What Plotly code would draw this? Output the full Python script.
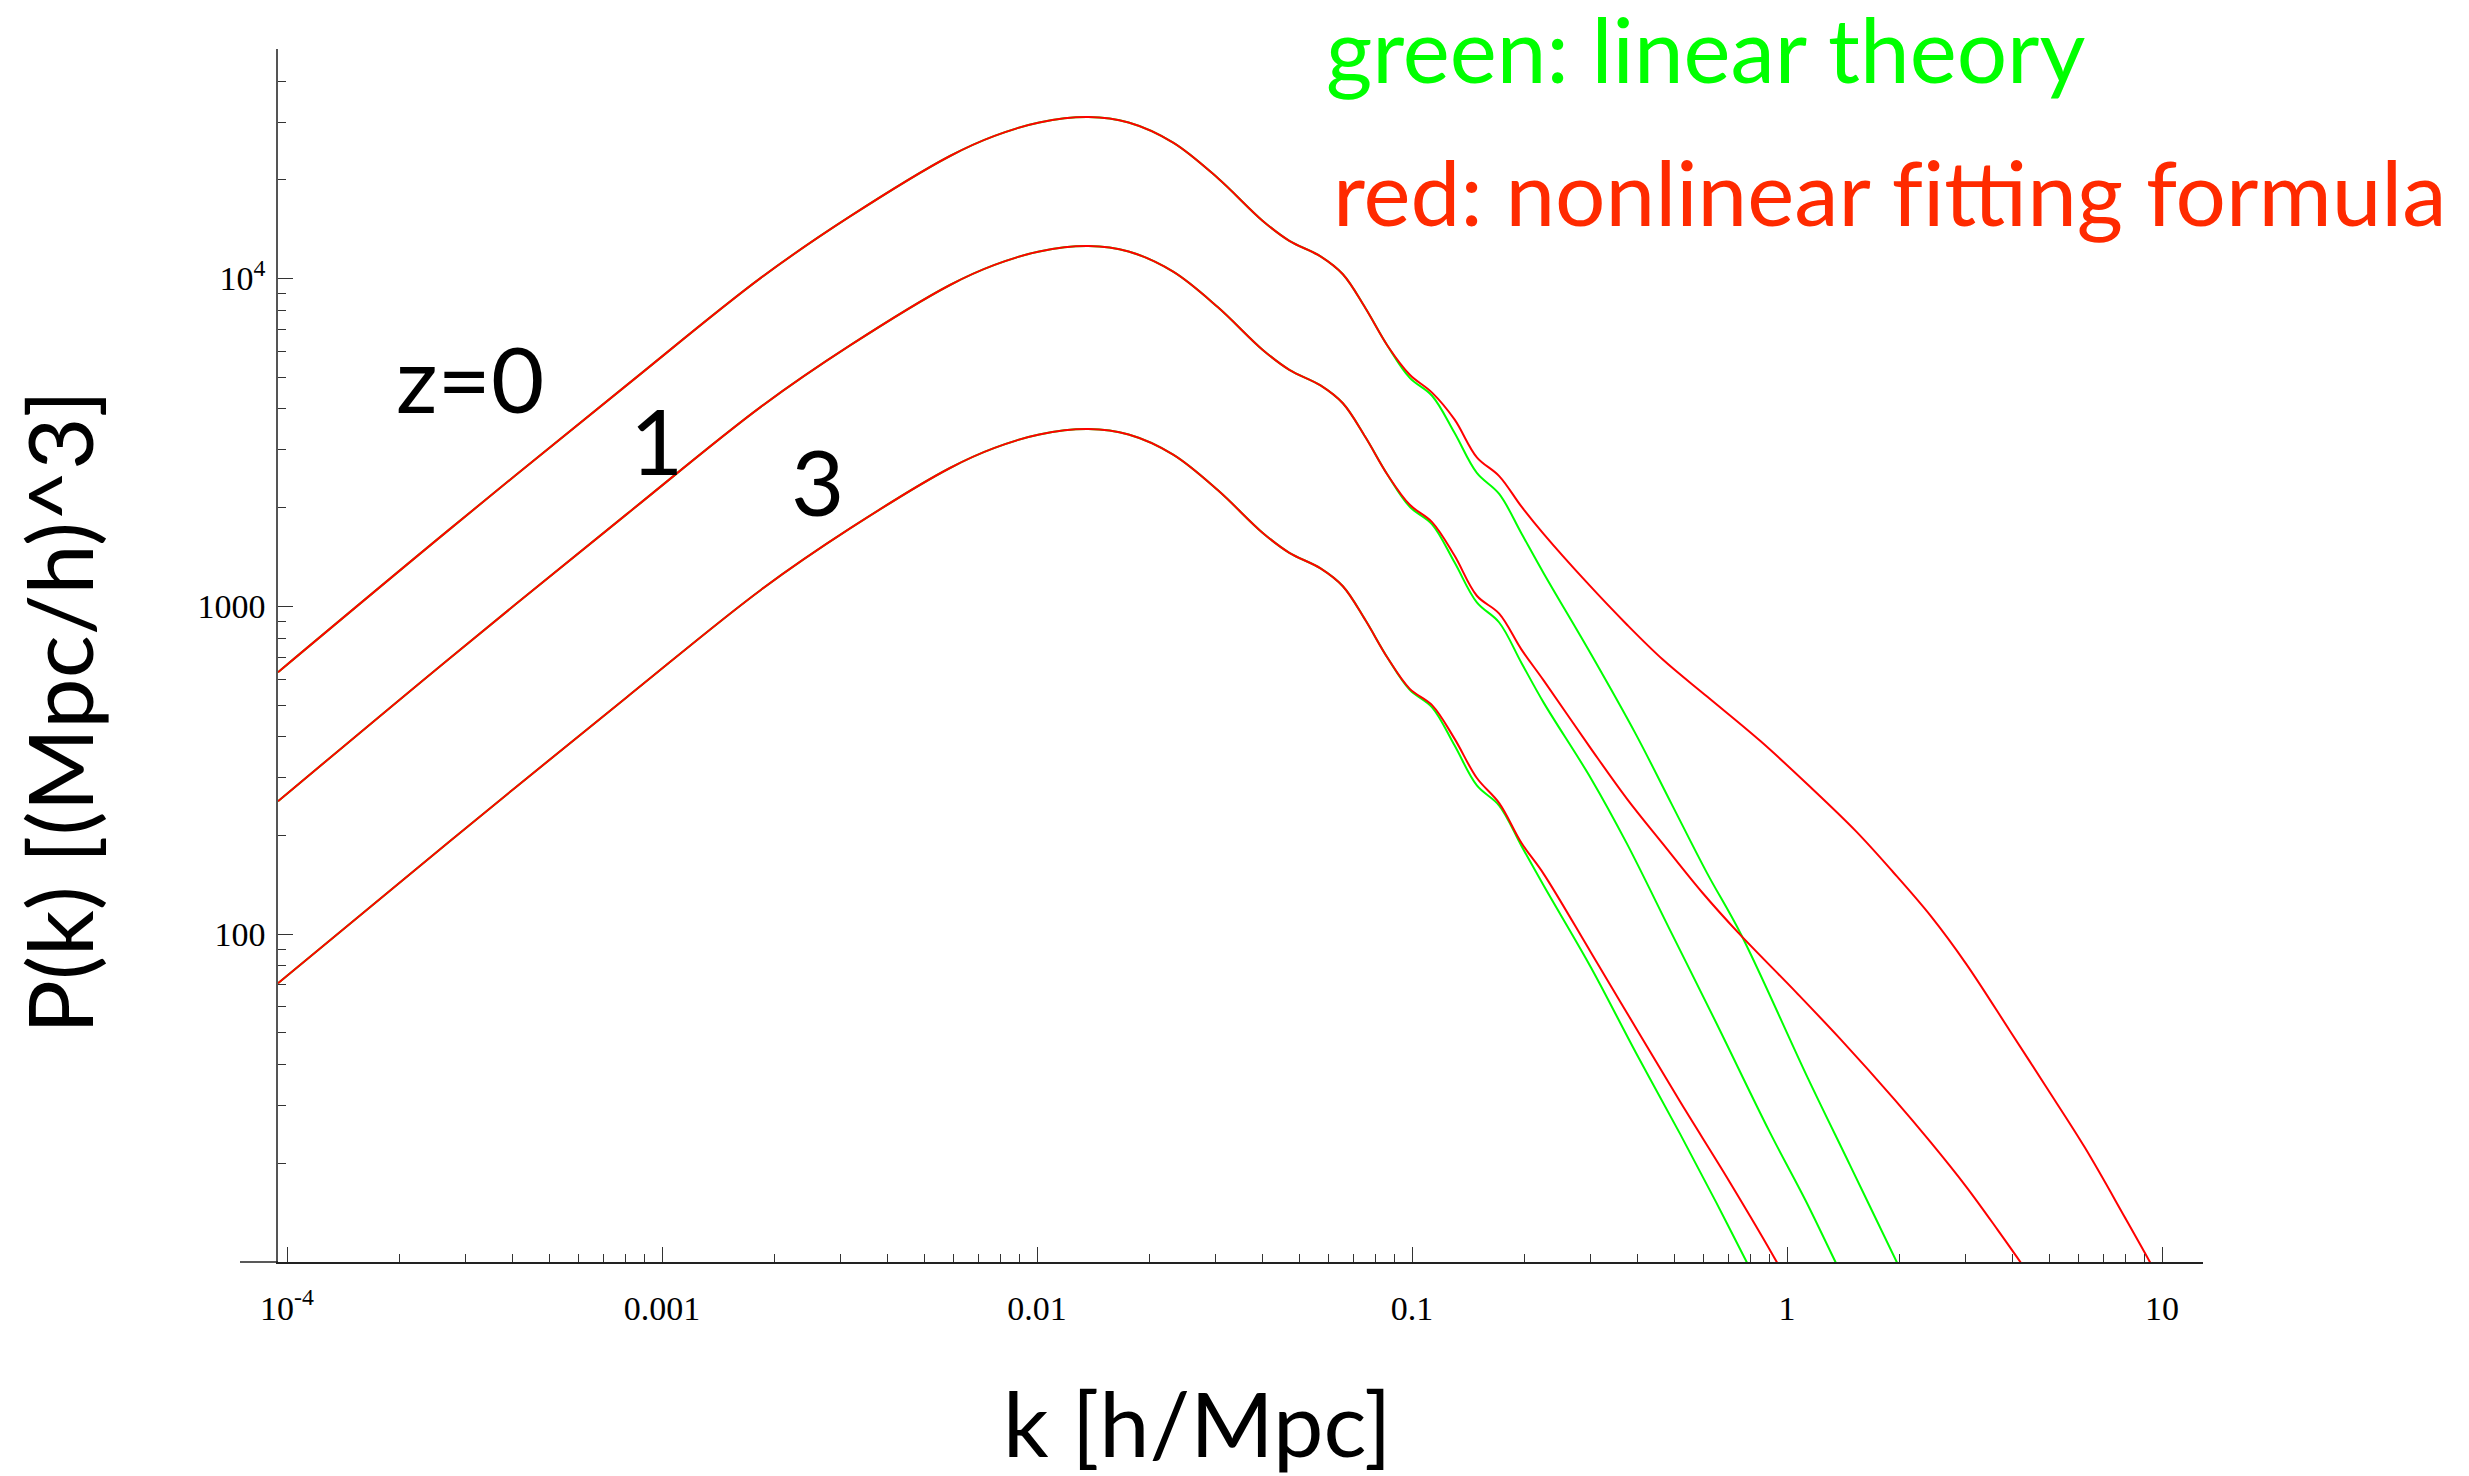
import plotly.graph_objects as go

# ---------------- data (k in h/Mpc, P in (Mpc/h)^3) ----------------
k_grid = [9.462e-5, 2.697e-4, 8.070e-4, 1.838e-3, 3.180e-3, 5.861e-3, 7.706e-3, 1.014e-2,
          1.371e-2, 1.755e-2, 2.307e-2, 3.038e-2, 3.993e-2, 4.709e-2, 5.702e-2, 6.541e-2,
          7.502e-2, 8.603e-2, 9.865e-2, 0.1131, 0.1298, 0.1489, 0.1708, 0.1957, 0.2246]

# z = 0
p_nl_z0 = [629.6, 1708, 4737, 10060, 15490, 23640, 27230, 29910, 31070, 29910, 25970, 20220,
           15010, 13030, 11680, 10300, 8141, 6237, 5087, 4487, 3717, 2848, 2496, 2017, 1661]
k_nl_z0_tail = [0.2921, 0.3739, 0.4656, 0.6121, 0.8509, 1.139, 1.524, 1.920, 2.416, 3.007,
                3.928, 4.888, 6.233, 7.943, 9.301, 9.579]
p_nl_z0_tail = [1185, 880.6, 689.5, 530.6, 387.4, 285.0, 206.5, 154.5, 113.7, 81.06,
                50.77, 34.48, 22.30, 13.75, 9.96, 9.316]

p_lin_z0 = [629.6, 1708, 4737, 10060, 15490, 23640, 27230, 29910, 31070, 29910, 25970, 20220,
            15010, 13030, 11680, 10300, 8141, 6237, 4977, 4389, 3384, 2552, 2202, 1671, 1260]
k_lin_z0_tail = [0.3003, 0.3948, 0.4917, 0.6121, 0.7536, 1.139, 1.472, 1.965, 2.026]
p_lin_z0_tail = [714.2, 408.3, 250.2, 153.5, 99.93, 36.19, 19.75, 9.96, 9.25]

# z = 1
p_nl_z1 = [254.2, 690, 1914, 4065, 6259, 9552, 11002, 12085, 12554, 12085, 10493, 8170,
           6065, 5265, 4719, 4162, 3289, 2520, 2040, 1807, 1428, 1077, 950.1, 739.3, 593.6]
k_nl_z1_tail = [0.3003, 0.3739, 0.4656, 0.5958, 0.7421, 1.0595, 1.394, 1.936, 2.412, 3.007,
                3.653, 4.227, 4.365]
p_nl_z1_tail = [367.6, 259.2, 189.2, 133.5, 100.9, 66.33, 47.59, 31.29, 23.25, 16.96,
                12.49, 9.854, 9.316]

p_lin_z1 = [254.2, 690, 1914, 4065, 6259, 9552, 11002, 12085, 12554, 12085, 10493, 8170,
            6065, 5265, 4719, 4162, 3289, 2520, 2011, 1779, 1362, 1028, 892.6, 673, 507.6]
k_lin_z1_tail = [0.3003, 0.3739, 0.4917, 0.6469, 0.8987, 1.120, 1.349, 1.389]
p_lin_z1_tail = [298.1, 189.2, 100.9, 53.78, 24.94, 15.43, 9.96, 9.316]

# z = 3
p_nl_z3 = [70.8, 190.8, 529.3, 1124, 1731, 2642, 3043, 3342, 3472, 3342, 2902, 2259,
           1677, 1456, 1305, 1151, 909.5, 696.9, 560, 499.5, 394.9, 299.4, 251.1, 190, 152.5]
k_nl_z3_tail = [0.3003, 0.3948, 0.5195, 0.7025, 0.9365, 0.9698]
p_nl_z3_tail = [87.75, 51.93, 30.74, 17.58, 10.05, 9.316]

p_lin_z3 = [70.8, 190.8, 529.3, 1124, 1731, 2642, 3043, 3342, 3472, 3342, 2902, 2259,
            1677, 1456, 1305, 1151, 909.5, 696.9, 556.1, 492, 376.7, 284.3, 246.8, 186.1, 140.4]
k_lin_z3_tail = [0.3003, 0.3948, 0.5195, 0.6469, 0.7820, 0.8066]
p_lin_z3_tail = [78.98, 43.62, 24.51, 15.23, 9.96, 9.316]

x_tick_vals = [1e-4, 1e-3, 1e-2, 1e-1, 1, 10]
x_tick_text = ["10<sup>-4</sup>", "0.001", "0.01", "0.1", "1", "10"]
y_tick_vals = [100, 1000, 10000]
y_tick_text = ["100", "1000", "10<sup>4</sup>"]
x_minor_vals = [m * 10.0 ** e for e in range(-4, 1) for m in range(2, 10)]
y_minor_vals = [m * 10.0 ** e for e in range(1, 5) for m in range(2, 10)]

GREEN = "#00ff00"
RED = "#ff0000"

# ---------------- figure ----------------
W, H = 2469, 1476
L, R, T, B = 278, 266, 49, 214
PW, PH = W - L - R, H - T - B


def px(X):
    return (X - L) / PW


def py(Y):
    return (H - B - Y) / PH


fig = go.Figure()


def add_curve(k, p, color):
    fig.add_trace(go.Scatter(x=k, y=p, mode="lines",
                             line=dict(color=color, width=2, shape="spline", smoothing=1.0),
                             hoverinfo="skip", showlegend=False))


add_curve(k_grid + k_lin_z0_tail, p_lin_z0 + p_lin_z0_tail, GREEN)
add_curve(k_grid + k_lin_z1_tail, p_lin_z1 + p_lin_z1_tail, GREEN)
add_curve(k_grid + k_lin_z3_tail, p_lin_z3 + p_lin_z3_tail, GREEN)
add_curve(k_grid + k_nl_z0_tail, p_nl_z0 + p_nl_z0_tail, RED)
add_curve(k_grid + k_nl_z1_tail, p_nl_z1 + p_nl_z1_tail, RED)
add_curve(k_grid + k_nl_z3_tail, p_nl_z3 + p_nl_z3_tail, RED)

tickfont = dict(family="Liberation Serif, Times New Roman, serif", size=34, color="black")

fig.update_xaxes(type="log", range=[-4.024, 1.1093], showgrid=False, zeroline=False,
                 showline=True, linecolor="#222", linewidth=1.5,
                 ticks="inside", ticklen=15, tickwidth=1, tickcolor="#333",
                 tickmode="array", tickvals=x_tick_vals, ticktext=x_tick_text,
                 tickfont=tickfont, ticklabelstandoff=15,
                 minor=dict(tickmode="array", tickvals=x_minor_vals, ticks="inside",
                            ticklen=8, tickwidth=1, tickcolor="#333", showgrid=False))
fig.update_yaxes(type="log", range=[1.0, 4.7], showgrid=False, zeroline=False,
                 showline=True, linecolor="#555", linewidth=1.5,
                 ticks="inside", ticklen=15, tickwidth=1, tickcolor="#333",
                 tickmode="array", tickvals=y_tick_vals, ticktext=y_tick_text,
                 tickfont=tickfont, ticklabelstandoff=4,
                 minor=dict(tickmode="array", tickvals=y_minor_vals, ticks="inside",
                            ticklen=8, tickwidth=1, tickcolor="#333", showgrid=False))

label_font = "Lato, Open Sans, sans-serif"
annotations = [
    dict(text="z=0", x=px(470), y=py(377), font=dict(size=92, color="black")),
    dict(text="1", x=px(656), y=py(439), font=dict(size=92, color="black")),
    dict(text="3", x=px(817), y=py(480), font=dict(size=92, color="black")),
    dict(text="k [h/Mpc]", x=px(1197), y=py(1422), font=dict(size=90, color="black")),
    dict(text="P(k) [(Mpc/h)^3]", x=px(58), y=py(712), textangle=-90,
         font=dict(size=90, color="black")),
]
for a in annotations:
    a.update(xref="paper", yref="paper", xanchor="center", yanchor="middle", showarrow=False)
    a["font"]["family"] = label_font

annotations.append(dict(text="green: linear theory", x=px(1324), y=py(48), xref="paper", yref="paper",
                        xanchor="left", yanchor="middle", showarrow=False,
                        font=dict(family=label_font, size=89, color=GREEN)))
annotations.append(dict(text="red: nonlinear f\u200citting formula", x=px(1331), y=py(191),
                        xref="paper", yref="paper", xanchor="left", yanchor="middle",
                        showarrow=False,
                        font=dict(family=label_font, size=89, color="#ff2a00")))

fig.update_layout(width=W, height=H, margin=dict(l=L, r=R, t=T, b=B, pad=0),
                  paper_bgcolor="white", plot_bgcolor="white", showlegend=False,
                  annotations=annotations,
                  shapes=[dict(type="line", xref="paper", yref="paper", x0=px(240), x1=0,
                               y0=0, y1=0, line=dict(color="#222", width=1.5))])

fig.write_html("out.html")
